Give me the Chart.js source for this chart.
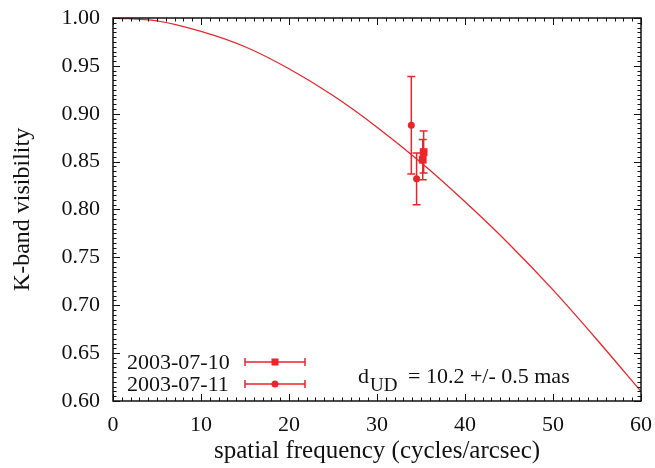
<!DOCTYPE html>
<html>
<head>
<meta charset="utf-8">
<script src="https://cdn.jsdelivr.net/npm/chart.js@4.4.1/dist/chart.umd.min.js"></script>
<style>
  html, body { margin: 0; padding: 0; background: #fff; }
  #wrap { width: 655px; height: 468px; }
</style>
</head>
<body>
<div id="wrap"><canvas id="visChart" width="655" height="468"></canvas></div>
<script>
// uniform disk model
const modelFreq = [0, 5, 10, 15, 20, 25, 30, 35, 40, 45, 50, 55, 60];
const modelVis = [1.000, 0.997, 0.986, 0.970, 0.947, 0.919, 0.886, 0.849, 0.808, 0.764, 0.716, 0.664, 0.610];

// observations
const night1Label = '2003-07-10';
const night1Freq = [35.3, 35.2];
const night1Vis = [0.860, 0.852];
const night1Err = [0.022, 0.021];

const night2Label = '2003-07-11';
const night2Freq = [33.9, 34.5];
const night2Vis = [0.888, 0.832];
const night2Err = [0.051, 0.027];

const xTicks = [0, 10, 20, 30, 40, 50, 60];
const yTicks = [0.60, 0.65, 0.70, 0.75, 0.80, 0.85, 0.90, 0.95, 1.00];

const RED = '#e8262c';
const INK = '#111';
const SERIF = '"Liberation Serif", "DejaVu Serif", serif';

function pts(xs, ys) {
  return xs.map((x, i) => ({ x, y: ys[i] }));
}

const errorBars = {
  id: 'errorBars',
  beforeDatasetsDraw(chart) {
    const { ctx, scales: { x, y } } = chart;
    ctx.save();
    ctx.strokeStyle = RED;
    ctx.lineWidth = 1.5;
    chart.data.datasets.forEach(ds => {
      if (!ds.errors) return;
      ds.data.forEach((p, i) => {
        const px = x.getPixelForValue(p.x);
        const top = y.getPixelForValue(p.y + ds.errors[i]);
        const bot = y.getPixelForValue(p.y - ds.errors[i]);
        ctx.beginPath();
        ctx.moveTo(px, top); ctx.lineTo(px, bot);
        ctx.moveTo(px - 4, top); ctx.lineTo(px + 4, top);
        ctx.moveTo(px - 4, bot); ctx.lineTo(px + 4, bot);
        ctx.stroke();
      });
    });
    ctx.restore();
  }
};

const frame = {
  id: 'frame',
  afterDraw(chart) {
    const { ctx, chartArea: a, scales: { x, y } } = chart;
    ctx.save();
    ctx.strokeStyle = INK;
    ctx.lineWidth = 1;
    ctx.beginPath();
    // minor + major ticks, mirrored on all four sides
    for (let v = 0; v <= 60; v += 1) {
      const px = Math.round(x.getPixelForValue(v)) + 0.5;
      const len = v % 10 === 0 ? 7 : 3.5;
      ctx.moveTo(px, a.bottom); ctx.lineTo(px, a.bottom - len);
      ctx.moveTo(px, a.top); ctx.lineTo(px, a.top + len);
    }
    for (let k = 0; k <= 80; k++) {
      const v = 0.6 + k * 0.005;
      const py = Math.round(y.getPixelForValue(v)) + 0.5;
      const len = k % 10 === 0 ? 7 : 3.5;
      ctx.moveTo(a.left, py); ctx.lineTo(a.left + len, py);
      ctx.moveTo(a.right, py); ctx.lineTo(a.right - len, py);
    }
    ctx.stroke();
    ctx.lineWidth = 1.5;
    ctx.strokeRect(a.left, a.top, a.right - a.left, a.bottom - a.top);

    // key, gnuplot style: label then sample
    ctx.font = '22px ' + SERIF;
    ctx.textBaseline = 'middle';
    ctx.textAlign = 'left';
    const rows = [
      { label: night1Label, style: 'rect', y: 362 },
      { label: night2Label, style: 'circle', y: 384 }
    ];
    rows.forEach(r => {
      ctx.fillStyle = INK;
      ctx.fillText(r.label, 127, r.y + 1);
      ctx.strokeStyle = RED;
      ctx.lineWidth = 1.5;
      ctx.beginPath();
      ctx.moveTo(245, r.y); ctx.lineTo(305, r.y);
      ctx.moveTo(245, r.y - 4); ctx.lineTo(245, r.y + 4);
      ctx.moveTo(305, r.y - 4); ctx.lineTo(305, r.y + 4);
      ctx.stroke();
      ctx.fillStyle = RED;
      if (r.style === 'rect') {
        ctx.fillRect(271.5, r.y - 3.5, 7, 7);
      } else {
        ctx.beginPath();
        ctx.arc(275, r.y, 3.5, 0, Math.PI * 2);
        ctx.fill();
      }
    });

    // diameter note
    ctx.fillStyle = INK;
    ctx.textBaseline = 'alphabetic';
    ctx.font = '22px ' + SERIF;
    ctx.fillText('d', 358, 383);
    ctx.font = '19px ' + SERIF;
    ctx.fillText('UD', 370, 391);
    ctx.font = '22px ' + SERIF;
    ctx.fillText('= 10.2 +/- 0.5 mas', 408, 383);
    ctx.restore();
  }
};

new Chart(document.getElementById('visChart'), {
  type: 'scatter',
  data: {
    datasets: [
      {
        label: 'UD model',
        type: 'line',
        data: pts(modelFreq, modelVis),
        borderColor: RED,
        borderWidth: 1.3,
        pointRadius: 0,
        fill: false,
        cubicInterpolationMode: 'monotone'
      },
      {
        label: night1Label,
        data: pts(night1Freq, night1Vis),
        errors: night1Err,
        backgroundColor: RED,
        borderColor: RED,
        pointStyle: 'rect',
        pointRadius: 5.5,
        borderWidth: 0
      },
      {
        label: night2Label,
        data: pts(night2Freq, night2Vis),
        errors: night2Err,
        backgroundColor: RED,
        borderColor: RED,
        pointStyle: 'circle',
        pointRadius: 3.5,
        borderWidth: 0
      }
    ]
  },
  options: {
    responsive: false,
    animation: false,
    layout: { padding: { top: 18, right: 14, left: 0, bottom: 0 } },
    plugins: {
      legend: { display: false },
      tooltip: { enabled: false }
    },
    scales: {
      x: {
        type: 'linear',
        min: 0,
        max: 60,
        afterFit: s => { s.height = 67; s.paddingLeft = 0; s.paddingRight = 0; },
        afterBuildTicks: s => { s.ticks = xTicks.map(v => ({ value: v })); },
        grid: { display: false, drawTicks: false },
        border: { display: false },
        ticks: {
          color: INK,
          padding: 11,
          maxRotation: 0,
          font: { family: SERIF, size: 22 }
        },
        title: {
          display: true,
          text: 'spatial frequency (cycles/arcsec)',
          color: INK,
          padding: { top: 0, bottom: 2 },
          font: { family: SERIF, size: 25 }
        }
      },
      y: {
        type: 'linear',
        min: 0.6,
        max: 1.0,
        afterFit: s => { s.width = 113; s.paddingTop = 0; s.paddingBottom = 0; },
        afterBuildTicks: s => { s.ticks = yTicks.map(v => ({ value: v })); },
        grid: { display: false, drawTicks: false },
        border: { display: false },
        ticks: {
          color: INK,
          padding: 13,
          font: { family: SERIF, size: 22 },
          callback: v => v.toFixed(2)
        },
        title: {
          display: true,
          text: 'K-band visibility',
          color: INK,
          padding: { top: 8, bottom: 0 },
          font: { family: SERIF, size: 24 }
        }
      }
    }
  },
  plugins: [errorBars, frame]
});
</script>
</body>
</html>
